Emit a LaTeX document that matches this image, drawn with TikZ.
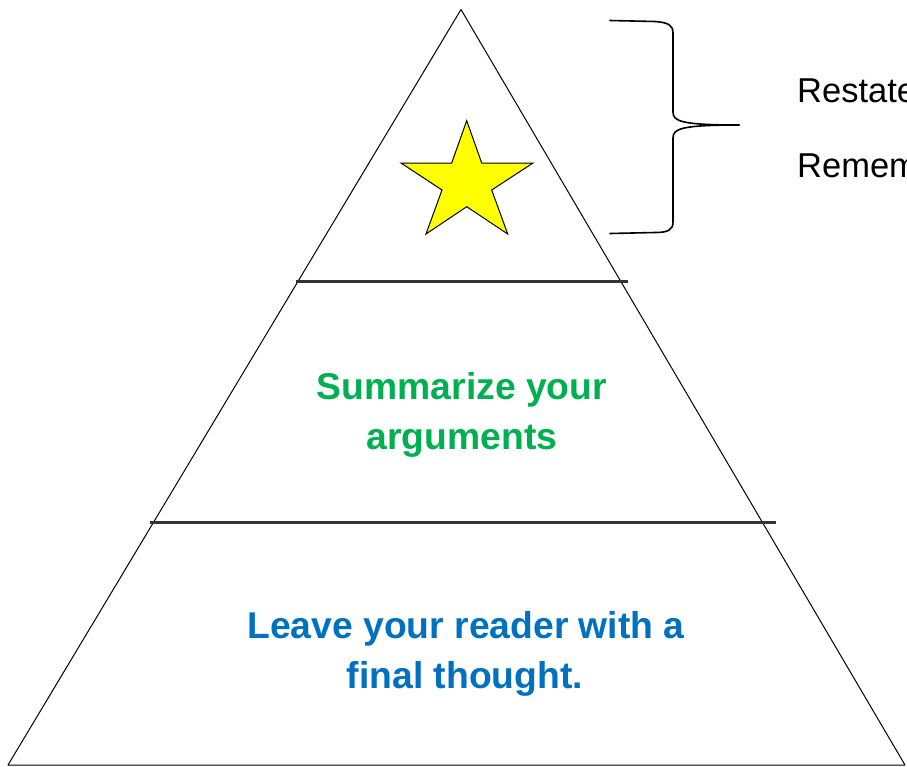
\documentclass[tikz,border=0pt]{standalone}
\usepackage{fontspec}
\setmainfont{Liberation Sans}
\definecolor{sumgreen}{RGB}{0,176,80}
\definecolor{leaveblue}{RGB}{0,112,192}
\definecolor{starfill}{RGB}{255,255,0}
\begin{document}
\begin{tikzpicture}[x=1pt,y=-1pt,
  edge/.style={line width=1pt, draw=black},
  divider/.style={line width=2.2pt, draw=black!80},
  bracepath/.style={line width=1.6pt, draw=black, line cap=round, line join=round},
  sidetext/.style={font=\fontsize{34.5}{40}\selectfont, text=black, anchor=base west, inner sep=0pt},
  greentext/.style={font=\fontsize{37.3}{50}\selectfont\bfseries, text=sumgreen, anchor=base, inner sep=0pt},
  bluetext/.style={font=\fontsize{37.3}{50}\selectfont\bfseries, text=leaveblue, anchor=base, inner sep=0pt},
  starshape/.style={fill=starfill, draw=black, line width=1pt, line join=miter}
]
\useasboundingbox (0,0) rectangle (907,766);
\clip (0,0) rectangle (907,766);

% pyramid
\coordinate (apex) at (461,9.5);
\coordinate (bl) at (8,765);
\coordinate (br) at (905,765);
\draw[edge, line join=round] (apex) -- (bl) -- (br) -- cycle;

% dividers
\coordinate (d1l) at (296,281.5);
\coordinate (d1r) at (628,281.5);
\coordinate (d2l) at (150,522.5);
\coordinate (d2r) at (776,522.5);
\draw[divider] (d1l) -- (d1r);
\draw[divider] (d2l) -- (d2r);

% star
\coordinate (s1) at (466.7,120.7);
\coordinate (s2) at (481.7,163);
\coordinate (s3) at (533,163);
\coordinate (s4) at (491.7,190);
\coordinate (s5) at (507.7,234);
\coordinate (s6) at (466.7,206.7);
\coordinate (s7) at (426,234);
\coordinate (s8) at (442,190);
\coordinate (s9) at (401,163);
\coordinate (s10) at (451.7,163);
\draw[starshape] (s1) -- (s2) -- (s3) -- (s4) -- (s5) -- (s6) -- (s7) -- (s8) -- (s9) -- (s10) -- cycle;

% brace
\coordinate (btop) at (610,20.5);
\coordinate (btip) at (739,125);
\coordinate (bbot) at (610,233.5);
\draw[bracepath] (btop) -- (655,21.5)
  .. controls (668,22.5) and (673,25) .. (673,33)
  -- (673,112)
  .. controls (673,121) and (680,125) .. (btip);
\draw[bracepath] (btip)
  .. controls (680,125) and (673,129) .. (673,138)
  -- (673,222)
  .. controls (673,230) and (668,232.5) .. (655,232.5)
  -- (bbot);

% side text (cut by the right edge, as in the reference)
\node[sidetext] (restate) at (797,102) {Restate};
\node[sidetext] (remember) at (797,177) {Remember};

% level texts
\node[greentext] (summ1) at (462,399) {Summarize your};
\node[greentext] (summ2) at (462,449) {arguments};
\node[bluetext] (leave1) at (466,638) {Leave your reader with a};
\node[bluetext] (leave2) at (465,688) {final thought.};
\end{tikzpicture}
\end{document}
